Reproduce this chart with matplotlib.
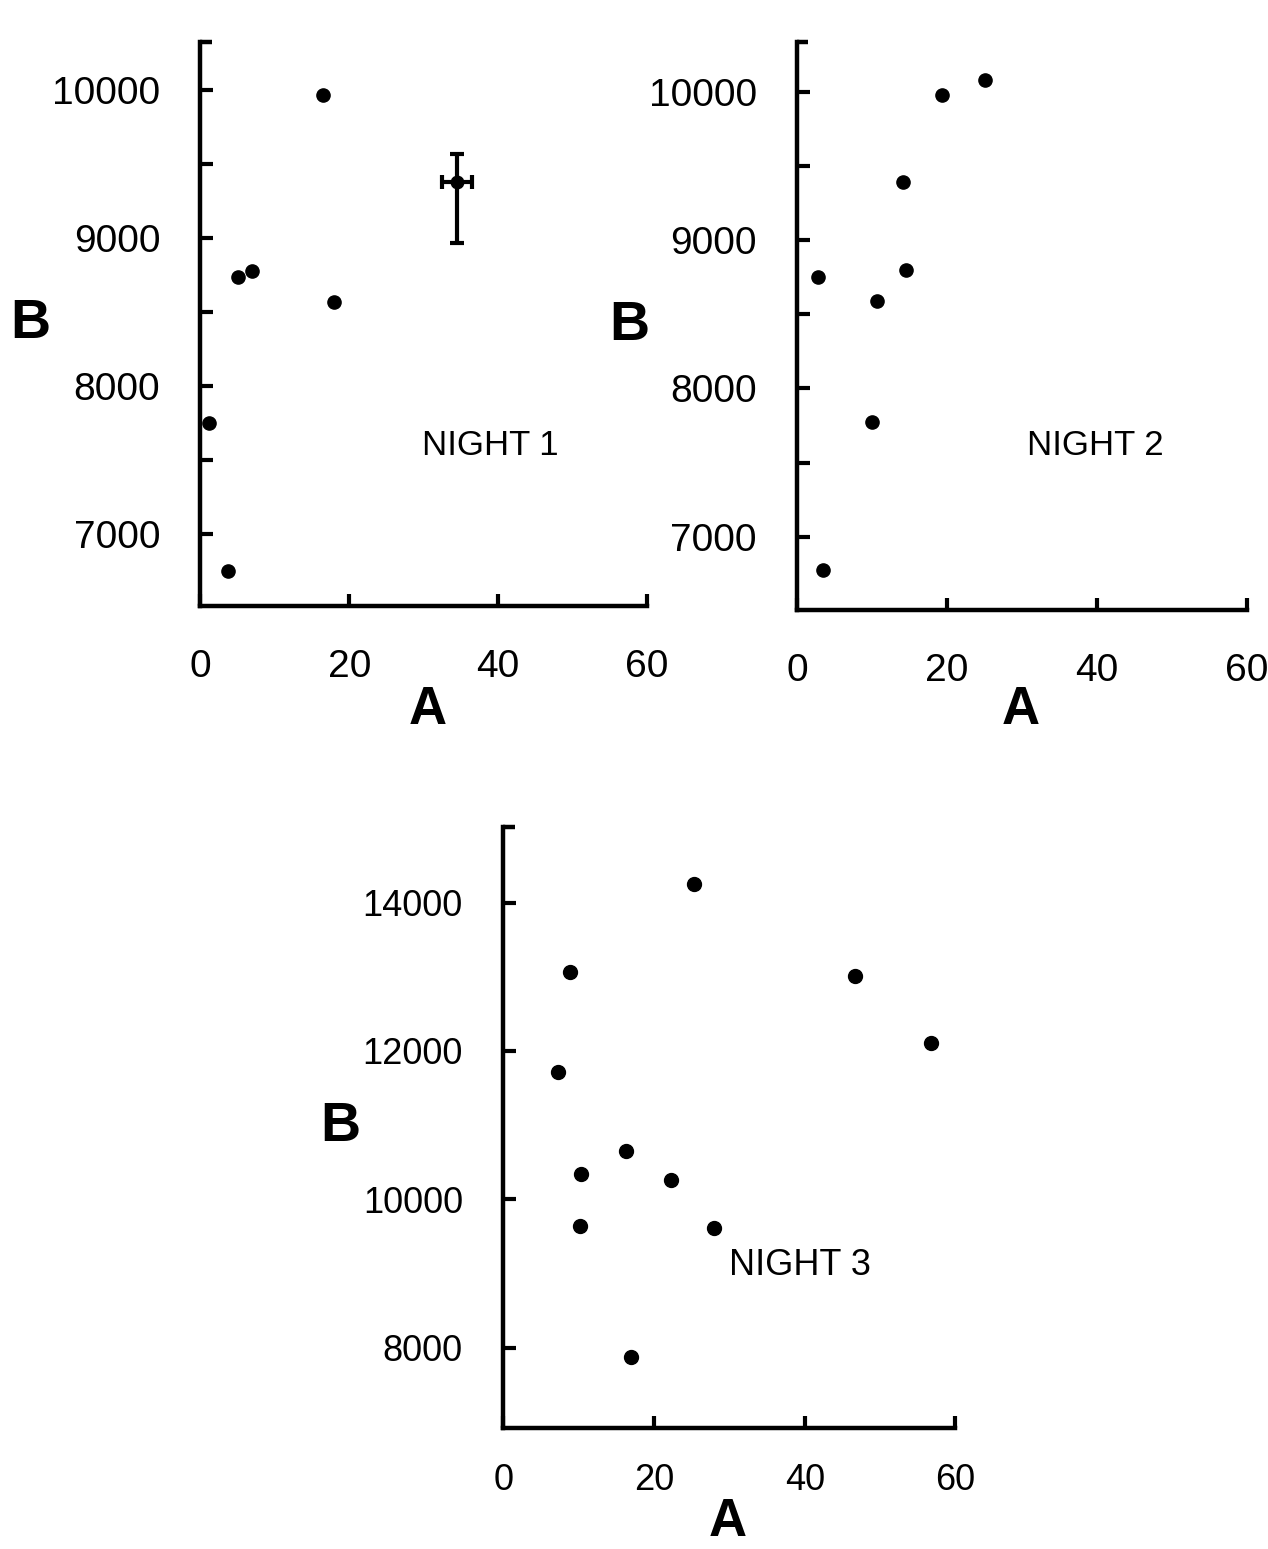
import numpy as np
import matplotlib.pyplot as plt
from matplotlib.ticker import MultipleLocator

# night 1
a1 = [1.2, 3.7, 5.0, 6.9, 16.4, 18.0]
b1 = [7750, 6750, 8735, 8780, 9970, 8570]
# typical uncertainty, shown once on night 1
err_a = [34.5]
err_b = [9378]
err_aerr = [2.0]
err_berr_lo = [410]
err_berr_hi = [190]

# night 2
a2 = [2.8, 3.5, 10.0, 10.7, 14.1, 14.5, 19.3, 25.0]
b2 = [8750, 6775, 7775, 8590, 9390, 8795, 9975, 10075]

# night 3
a3 = [25.3, 8.8, 7.3, 46.7, 56.7, 16.3, 10.3, 22.3, 10.2, 28.0, 17.0]
b3 = [14250, 13060, 11715, 13010, 12100, 10650, 10335, 10260, 9640, 9615, 7870]

xticks = [0, 20, 40, 60]

plt.rcParams['font.family'] = ['Liberation Sans', 'DejaVu Sans']

fig = plt.figure(figsize=(12.68, 15.49), dpi=100)


def style(ax, ylim, major, minor, fs):
    for s in ['top', 'right']:
        ax.spines[s].set_visible(False)
    for s in ['left', 'bottom']:
        ax.spines[s].set_linewidth(3.2)
    ax.set_xlim(0, 60)
    ax.set_ylim(*ylim)
    ax.set_xticks(xticks)
    ax.yaxis.set_major_locator(MultipleLocator(major))
    if minor:
        ax.yaxis.set_minor_locator(MultipleLocator(minor))
    ax.tick_params(axis='both', which='both', direction='in', length=9,
                   width=3, labelsize=fs)
    ax.tick_params(axis='y', which='major', pad=29)
    ax.tick_params(axis='x', which='major', pad=31)
    # small cap at the top of the vertical axis
    ax.plot([0, 0.025], [1, 1], color='black', lw=3.2,
            transform=ax.transAxes, clip_on=False, solid_capstyle='butt')


def labels(ax, bx, ax_y, ax_x):
    ax.set_ylabel('B', rotation=0, fontsize=40, fontweight='bold',
                  ha='center', va='center')
    ax.yaxis.set_label_coords(bx, 0.5)
    ax.set_xlabel('A', fontsize=38, fontweight='bold', va='center')
    ax.xaxis.set_label_coords(ax_x, ax_y)


ax1 = fig.add_axes([0.1581, 0.6085, 0.3521, 0.3644])
style(ax1, (6510, 10327), 1000, 500, 28)
ax1.plot(a1, b1, 'o', color='black', ms=9.5)
ax1.errorbar(err_a, err_b, xerr=err_aerr, yerr=[err_berr_lo, err_berr_hi],
             fmt='o', color='black', ms=9, elinewidth=3, capsize=5,
             capthick=3)
ax1.text(39, 7600, 'NIGHT 1', fontsize=25, ha='center', va='center')
labels(ax1, -0.382, -0.183, 0.51)

ax2 = fig.add_axes([0.6286, 0.6062, 0.3549, 0.3667])
style(ax2, (6506, 10334), 1000, 500, 28)
ax2.plot(a2, b2, 'o', color='black', ms=9.5)
ax2.text(39.7, 7615, 'NIGHT 2', fontsize=25, ha='center', va='center')
labels(ax2, -0.373, -0.176, 0.496)

ax3 = fig.add_axes([0.3969, 0.0781, 0.3566, 0.3883])
style(ax3, (6915, 15025), 2000, None, 26)
ax3.tick_params(axis='x', which='major', pad=25)
ax3.plot(a3, b3, 'o', color='black', ms=10)
ax3.text(39.3, 9100, 'NIGHT 3', fontsize=26, ha='center', va='center')
labels(ax3, -0.361, -0.156, 0.497)

fig.savefig('out.png', dpi=100)
